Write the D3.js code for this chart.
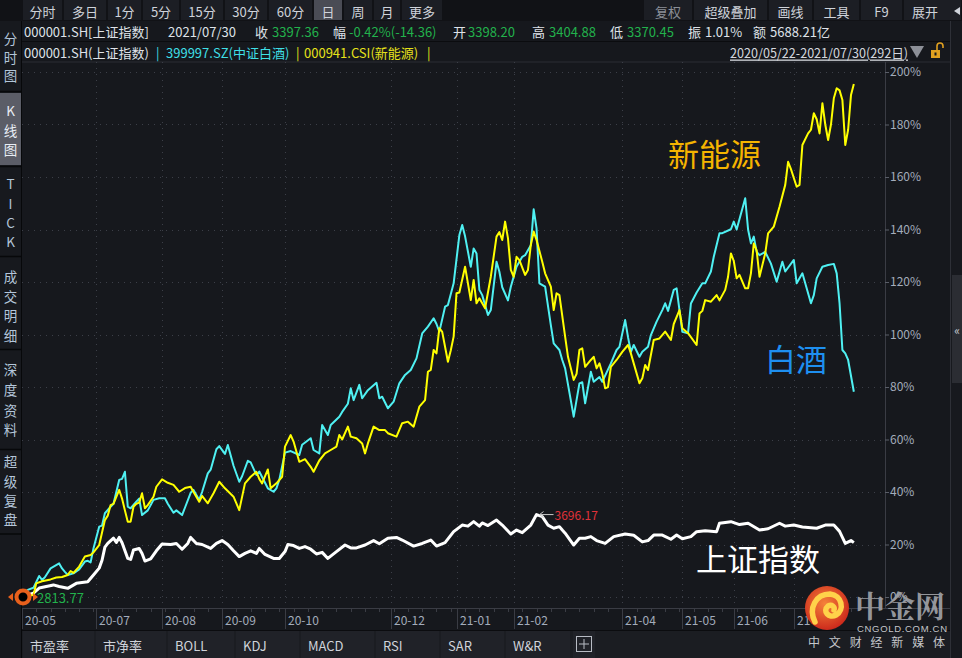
<!DOCTYPE html>
<html><head><meta charset="utf-8">
<script src="https://cdn.jsdelivr.net/npm/d3@7"></script>
<style>
html,body{margin:0;padding:0;background:#16181d;overflow:hidden;}
svg{display:block;}
</style></head>
<body>
<svg id="c" width="962" height="658"></svg>
<script>
// ---------------- DATA ----------------
// trading-day index (0 = 2020/05/22) and cumulative % change
const shIdx = [0,2,4,6,11,13,16,19,23,25,27,28,29,30,32,33,34,35,37,38,39,41,42,43,45,47,49,52,54,56,58,59,61,63,66,68,70,72,74,76,78,80,82,83,85,88,90,92,93,95,97,99,101,103,105,107,110,113,115,117,120,123,125,128,131,133,137,140,143,145,148,151,154,156,158,160,161,163,166,168,171,173,175,178,180,182,184,186,188,189,190,193,195,197,199,201,204,207,211,214,217,219,221,224,227,229,231,234,236,239,243,244,248,251,254,258,261,265,267,270,273,278,281,284,286,288,290,291];
const shVal = [0,0.8,1.5,3.4,4.6,4,3.3,5.2,5.8,8.4,11,14,19,20.4,22.4,20.8,22.7,20.7,14.7,14.3,17.9,18.5,16.6,13.7,14.5,17.6,20.2,20,20.4,18.2,20.4,22.7,20.4,20,18.5,20.4,21.5,20,17.6,15.4,16.6,17.6,16.6,18.5,16.2,14.7,14.7,17.3,20,19.6,18.5,19.2,18.2,16.4,17,14.7,17.3,19.8,18.7,18.7,19.8,21.5,20.3,22.4,22.7,21.7,19.4,20.4,21.7,19.4,20.7,24.9,27.4,27,28.7,27,28.2,27.2,29.3,27.4,24,25.5,24.5,27.4,31.4,30.6,27.4,26.2,26.8,25.5,24.3,19.8,22.4,22.4,23,21.5,20.4,23,24,23.5,21,21.5,23.6,23.6,22,23.6,22.2,23,24.9,25.2,24.9,28.1,28.7,27.6,28.1,25.5,26,28.1,27,27.4,26.7,26.2,27.4,27.4,25,20.4,21.5,20.7];

const bjIdx = [0,2,4,6,7,8,10,13,14,15,16,18,20,22,23,24,25,27,28,29,31,32,34,35,36,37,38,40,41,42,44,46,48,50,51,53,54,56,57,59,60,62,63,65,66,68,69,71,72,74,76,77,79,80,82,83,86,88,89,90,92,94,97,98,101,102,104,105,107,108,111,112,114,115,116,118,119,121,124,125,126,128,130,132,134,136,138,140,142,144,145,146,148,149,151,153,154,155,157,158,159,160,161,163,164,166,167,168,170,171,173,175,176,178,179,180,181,183,185,186,188,189,190,193,195,196,197,199,200,202,203,206,208,209,211,212,213,214,216,217,219,220,222,224,225,226,228,229,230,231,233,234,236,238,239,241,242,244,245,248,249,250,253,254,255,256,257,258,260,262,264,266,267,270,271,273,276,277,278,280,282,284,285,286,287,288,289,291];
const bjVal = [0,2.7,3.5,8,6.5,7.5,10.9,12.8,10.9,9.6,8.4,9,10.5,13.5,13.8,13.2,18.5,26.8,27.2,31.9,34.4,35.5,44.6,45,47.7,34.4,33.8,36.3,37.5,31.2,33,37,37.6,37.6,35.5,32.1,33,31.2,34,39.7,40.8,37,40,47.1,48.5,56.3,57.5,54.5,57.9,50,43.9,46,51.9,51.3,46.5,47.8,41.4,40.1,41.4,44.6,55,55.6,54.1,58,60.5,56,54.7,65.5,61.7,65.5,68.7,70.5,73.6,79.5,75,80.8,75.7,78.8,81.6,75.7,76.3,71.9,74.4,81.4,84.6,86.5,90.9,100.4,103,106.2,104,101.1,110.6,111.2,119.5,137.9,141.7,137.4,125.8,132.8,130.9,117,115,107.4,109.3,127.7,123.9,118,113,118.2,125.8,129.6,130.2,134,147.7,140.4,119.5,118.2,103.6,96.6,94.1,90.3,87.1,68.7,81.4,81.8,73.8,85.8,82,83.8,82,89,94.1,95.3,105.5,99,93.4,96,91.5,93.4,95.3,99.8,104.9,109.3,111.9,109,117,117.6,109.3,101,100.5,111.8,116,119.5,119.5,124,129.6,138.6,138.6,140.1,143,140,151.9,140,134.7,137.3,131.5,130.2,131.5,127,120.1,127.7,124,128.4,119.5,123.3,111.9,115,121.4,125.8,126.5,126.9,123.3,111.9,94.1,92.8,90.3,78.2];

const xnyIdx = [0,2,4,5,7,10,12,14,16,17,18,20,22,24,25,27,29,30,31,32,34,35,36,37,38,39,40,41,42,43,44,46,47,49,51,53,55,57,59,60,62,63,65,67,69,71,74,76,78,80,82,83,84,86,87,89,91,92,94,95,97,99,101,102,104,106,108,110,111,112,114,115,117,119,120,121,123,125,127,128,131,133,135,137,139,141,142,143,144,145,146,147,149,150,151,152,153,155,156,157,158,159,160,162,164,166,167,168,169,170,171,172,173,174,176,177,178,179,180,182,183,185,186,187,188,190,191,193,194,195,196,197,199,200,201,202,203,204,205,206,208,210,212,213,214,216,217,218,219,221,223,225,227,228,230,231,233,236,237,238,239,241,243,244,246,247,248,249,250,251,253,254,255,256,257,258,260,261,263,265,267,268,269,271,272,273,275,276,277,278,279,280,281,282,283,284,285,286,287,288,289,290,291];
const xnyVal = [0,0.5,0.8,5.2,6,6.7,7.4,7.6,8.4,9.9,9.2,11.6,15.4,16,17,19.8,29.3,31,35,35.5,40.8,37.5,33,28.7,28.7,34.4,35.5,36,39.5,33.8,35,38.2,42,44.8,43.5,42.7,40.1,41.5,42,40,36.3,38.5,35.7,39.5,43.9,41.4,38.2,33.1,43.3,45.8,47.7,45,43.3,48.6,41.4,43.3,45.8,57.3,61.7,59.2,51.5,52.5,49.6,47.7,52,54.7,56,57.3,61.7,60,64.9,61.1,60.5,58.5,54.7,58.5,64.9,63.6,63.6,62.4,61.1,66.2,66.8,64.9,72.5,75,85.8,86.5,94.1,92.8,102.4,101,89.6,94,99.2,115.7,116,125.8,119.5,113.1,120.8,111.9,113.8,110,122,137.3,139,136,143,136.7,124.6,122,129.6,128.3,122.7,124.6,134.1,139.2,136,127.7,123.3,118.2,109.3,115.7,115,99.2,91.5,82.7,85,94.1,94.7,87.7,90.3,91.5,87.1,89,85.2,79.5,80,87.7,90.3,93.4,96,92.8,89,81.4,83.3,88.4,86.5,97.9,98.5,101.1,97.9,104,109.3,102.4,100.5,96,108,109,113.1,112.5,115,113,117,122,130.9,128,121.4,122.7,117.6,117.6,123.3,134.7,132,122,130.9,138.5,141.1,148.7,157,165.8,163,156.3,157,172.2,176.6,178,184.3,182,176.6,188.1,180,174.1,180,190,193.8,193,189.3,172.2,178,191.2,195.4];

const monthTickIdx = [0,26,49,70,92,129,152,172,210,231,249,270];
const monthTickLabels = ["20-05","20-07","20-08","20-09","20-10","20-12","21-01","21-02","21-04","21-05","21-06","21-07"];
const yTickVals = [0,20,40,60,80,100,120,140,160,180,200];
const peakIdx = 180, peakVal = 31.4, peakLabel = "3696.17", baseLabel = "2813.77";
const totalDays = 292;

const topBtnsLeft = ["分时","多日","1分","5分","15分","30分","60分","日","周","月","更多"];
const topBtnsRight = ["复权","超级叠加","画线","工具","F9","展开"];
const sideBlocks = [["分","时","图"],["K","线","图"],["T","I","C","K"],["成","交","明","细"],["深","度","资","料"],["超","级","复","盘"]];
const bottomTabs = ["市盈率","市净率","BOLL","KDJ","MACD","RSI","SAR","W&R"];

// ---------------- DRAW ----------------
const FONT = '"Noto Sans CJK SC","Noto Sans",sans-serif';
const svg = d3.select("#c").style("font-family", FONT);
const BG = "#16181d", BAR = "#1c1e24", SEP = "#0b0c0f";

svg.append("rect").attr("width",962).attr("height",658).attr("fill",BG);

const L = 22, R = 885, T = 62, B = 608;
const x = d3.scaleLinear().domain([0, 301.9]).range([L, R]);
const y = d3.scaleLinear().domain([0, 200]).range([597, 72]);

// ---- top toolbar ----
svg.append("rect").attr("x",0).attr("y",0).attr("width",962).attr("height",21).attr("fill","#111216");
const leftEdges = [22,63,107,142,180,224,268,313,343,373,401,443];
topBtnsLeft.forEach((t,i)=>{
  const x0 = leftEdges[i], x1 = leftEdges[i+1];
  svg.append("rect").attr("x",x0+1).attr("y",0).attr("width",x1-x0-2).attr("height",20)
    .attr("fill", t==="日" ? "#4a4c55" : BAR);
  svg.append("text").attr("x",(x0+x1)/2).attr("y",11).attr("text-anchor","middle")
    .attr("dominant-baseline","central").attr("font-size",13).attr("fill","#cfd3da").text(t);
});
const rightEdges = [643,693,768,813,860,903,962];
topBtnsRight.forEach((t,i)=>{
  const x0 = rightEdges[i], x1 = rightEdges[i+1];
  svg.append("rect").attr("x",x0+1).attr("y",0).attr("width",x1-x0-2).attr("height",20).attr("fill",BAR);
  svg.append("text").attr("x", t==="展开" ? 912 : (x0+x1)/2).attr("y",11)
    .attr("text-anchor", t==="展开" ? "start" : "middle")
    .attr("dominant-baseline","central").attr("font-size",13)
    .attr("fill", t==="复权" ? "#8b8f97" : "#cfd3da").text(t);
});
svg.append("path").attr("d","M960,7 L954,11 L960,15 Z").attr("fill","#cfd3da");

// ---- header rows ----
const hdr = svg.append("g").attr("font-size",13);
const WH = "#dfe2e8", GR = "#22b24c";
[
  [24,"000001.SH[上证指数]",WH],[168,"2021/07/30",WH],[255,"收",WH],[272,"3397.36",GR],
  [333,"幅",WH],[349,"-0.42%(-14.36)",GR],[453,"开",WH],[468,"3398.20",GR],
  [532,"高",WH],[549,"3404.88",GR],[610,"低",WH],[627,"3370.45",GR],
  [688,"振",WH],[705,"1.01%",WH],[753,"额",WH],[770,"5688.21亿",WH]
].forEach(d=>hdr.append("text").attr("x",d[0]).attr("y",31).attr("dominant-baseline","central").attr("fill",d[2]).text(d[1]));
svg.append("line").attr("x1",22).attr("x2",950).attr("y1",41.5).attr("y2",41.5).attr("stroke",SEP);
const CY = "#3fdfe6", YE = "#e6e21a";
[
  [24,"000001.SH(上证指数)",WH],[156,"|",CY],[166,"399997.SZ(中证白酒)",CY],
  [296,"|",YE],[304,"000941.CSI(新能源)",YE],[427,"|",YE]
].forEach(d=>hdr.append("text").attr("x",d[0]).attr("y",52).attr("dominant-baseline","central").attr("fill",d[2]).text(d[1]));
hdr.append("text").attr("x",730).attr("y",52).attr("dominant-baseline","central").attr("fill","#d4d7dd")
  .attr("text-decoration","underline").attr("textLength",178).attr("lengthAdjust","spacingAndGlyphs")
  .text("2020/05/22-2021/07/30(" + totalDays + "日)");
svg.append("path").attr("d","M910,46 L924,46 L917,58 Z").attr("fill","#8d9098");
// lock icon
svg.append("rect").attr("x",931).attr("y",50).attr("width",9).attr("height",8).attr("fill","#e0a020");
svg.append("rect").attr("x",934.5).attr("y",52.5).attr("width",2).attr("height",3).attr("fill","#16181d");
svg.append("path").attr("d","M937,50 L937,46 A3,3 0 0 1 943,46 L943,48").attr("fill","none").attr("stroke","#e0a020").attr("stroke-width",1.6);

// ---- left sidebar ----
svg.append("rect").attr("x",0).attr("y",21).attr("width",21).attr("height",637).attr("fill","#17191e");
svg.append("line").attr("x1",21.5).attr("x2",21.5).attr("y1",21).attr("y2",658).attr("stroke","#07080a");
const sideRanges = [[22,90],[93,165],[168,256],[258,349],[351,449],[451,533]];
const sideYs = [[38,57,75],[110,130,149],[183,203,222,241],[276,296,315,335],[369,389,410,429],[461,481,500,519]];
sideBlocks.forEach((chars,i)=>{
  const [a,b] = sideRanges[i];
  if (i===1) svg.append("rect").attr("x",0).attr("y",a).attr("width",21).attr("height",b-a).attr("fill","#5b5d67");
  if (i>0) svg.append("line").attr("x1",0).attr("x2",21).attr("y1",a-1.5).attr("y2",a-1.5).attr("stroke","#07080a").attr("stroke-width",1.5);
  chars.forEach((c,j)=>svg.append("text").attr("x",10.5).attr("y",sideYs[i][j]).attr("text-anchor","middle")
    .attr("dominant-baseline","central").attr("font-size",13.5).attr("fill", i===1 ? "#e8edf5" : "#b4c6da").text(c));
});
svg.append("line").attr("x1",0).attr("x2",21).attr("y1",534).attr("y2",534).attr("stroke","#07080a").attr("stroke-width",1.5);

// ---- chart frame ----
svg.append("line").attr("x1",L).attr("x2",950).attr("y1",T).attr("y2",T).attr("stroke","#2b2d34");
svg.append("line").attr("x1",R+0.5).attr("x2",R+0.5).attr("y1",T).attr("y2",B).attr("stroke","#3a3c44");
svg.append("line").attr("x1",950.5).attr("x2",950.5).attr("y1",21).attr("y2",658).attr("stroke","#2e3037");
svg.append("rect").attr("x",951).attr("y",21).attr("width",11).attr("height",637).attr("fill","#17191e");
svg.append("rect").attr("x",952).attr("y",275).attr("width",10).attr("height",108).attr("fill","#2b2d33");
svg.append("text").attr("x",957).attr("y",329).attr("text-anchor","middle").attr("dominant-baseline","central")
  .attr("font-size",12).attr("fill","#c8ccd4").text("«");

// grid
const grid = svg.append("g").attr("stroke","#3c3f48").attr("stroke-dasharray","1,5");
yTickVals.forEach(v=>grid.append("line").attr("x1",L).attr("x2",R).attr("y1",Math.round(y(v))+0.5).attr("y2",Math.round(y(v))+0.5));
monthTickIdx.forEach(i=>{ if(i>0) grid.append("line").attr("x1",Math.round(x(i))+0.5).attr("x2",Math.round(x(i))+0.5).attr("y1",T).attr("y2",B); });

// right axis
const yAxis = svg.append("g").attr("transform",`translate(${R},0)`)
  .call(d3.axisRight(y).tickValues(yTickVals).tickSize(4).tickPadding(1).tickFormat(d=>d+"%"));
yAxis.select(".domain").remove();
yAxis.selectAll("line").attr("stroke","#5a5e68");
yAxis.selectAll("text").attr("font-size",12).attr("fill","#a3acbb").attr("font-family",FONT);

// bottom axis
svg.append("line").attr("x1",L).attr("x2",950).attr("y1",B+0.5).attr("y2",B+0.5).attr("stroke","#3a3c44");
const minor = svg.append("g").attr("stroke","#3a3c44");
d3.range(0,totalDays,5).forEach(i=>minor.append("line").attr("x1",Math.round(x(i))+0.5).attr("x2",Math.round(x(i))+0.5).attr("y1",B).attr("y2",B+4));
monthTickIdx.forEach((i,k)=>{
  const xp = Math.round(x(i))+0.5;
  svg.append("line").attr("x1",xp).attr("x2",xp).attr("y1",B).attr("y2",629).attr("stroke","#3a3c44");
  svg.append("text").attr("x",xp+2.5).attr("y",619).attr("dominant-baseline","central")
    .attr("font-size",12).attr("fill","#a3acbb").text(monthTickLabels[k]);
});

// ---- series ----
svg.append("clipPath").attr("id","clip").append("rect").attr("x",L).attr("y",T).attr("width",R-L).attr("height",B-T);
const plot = svg.append("g").attr("clip-path","url(#clip)");
const line = d3.line().x(d=>x(d[0])).y(d=>y(d[1])).curve(d3.curveLinear);
const zip = (a,b)=>a.map((v,i)=>[v,b[i]]);
plot.append("path").datum(zip(shIdx,shVal)).attr("d",line).attr("fill","none").attr("stroke","#ffffff").attr("stroke-width",3).attr("stroke-linejoin","round");
plot.append("path").datum(zip(bjIdx,bjVal)).attr("d",line).attr("fill","none").attr("stroke","#4ff0f2").attr("stroke-width",2).attr("stroke-linejoin","round");
plot.append("path").datum(zip(xnyIdx,xnyVal)).attr("d",line).attr("fill","none").attr("stroke","#ffff00").attr("stroke-width",2).attr("stroke-linejoin","round");

// peak label
const px = x(peakIdx), py = y(peakVal);
svg.append("line").attr("x1",px+3).attr("x2",px+17).attr("y1",py).attr("y2",py).attr("stroke","#c8c8c8").attr("stroke-width",1);
svg.append("path").attr("d",`M${px+3},${py} l4,-3 M${px+3},${py} l4,3`).attr("stroke","#c8c8c8").attr("fill","none");
svg.append("text").attr("x",px+18).attr("y",py).attr("dominant-baseline","central").attr("font-size",12).attr("fill","#e0323a").text(peakLabel);

// base marker
svg.append("text").attr("x",37).attr("y",y(0)).attr("dominant-baseline","central").attr("font-size",13).attr("fill","#22b24c").text(baseLabel);
svg.append("path").attr("d",`M8,${y(0)} L13,${y(0)-4} L13,${y(0)+4} Z`).attr("fill","#e8601c");
svg.append("path").attr("d",`M38,${y(0)} L33,${y(0)-4} L33,${y(0)+4} Z`).attr("fill","#e8601c");
svg.append("circle").attr("cx",23).attr("cy",y(0)).attr("r",6.5).attr("fill","#000").attr("stroke","#e8601c").attr("stroke-width",4);

// annotations
svg.append("text").attr("x",668).attr("y",152).attr("dominant-baseline","central").attr("font-size",31).attr("fill","#f5b400").text("新能源");
svg.append("text").attr("x",765).attr("y",357).attr("dominant-baseline","central").attr("font-size",31).attr("fill","#1e8ff0").text("白酒");
svg.append("text").attr("x",696).attr("y",557).attr("dominant-baseline","central").attr("font-size",31).attr("fill","#ffffff").text("上证指数");

// ---- bottom tab bar ----
svg.append("rect").attr("x",22).attr("y",630).attr("width",928).attr("height",28).attr("fill","#1b1d22");
svg.append("line").attr("x1",22).attr("x2",950).attr("y1",630.5).attr("y2",630.5).attr("stroke",SEP);
const tabEdges = [22,95,167,235,300,375,440,505,571];
bottomTabs.forEach((t,i)=>{
  const x0 = tabEdges[i], x1 = tabEdges[i+1];
  svg.append("rect").attr("x",x0+1).attr("y",631).attr("width",x1-x0-2).attr("height",27).attr("fill","#202228");
  svg.append("text").attr("x",x0+8).attr("y",645).attr("dominant-baseline","central").attr("font-size",13).attr("fill","#cfd3da").text(t);
});
svg.append("rect").attr("x",573).attr("y",631).attr("width",22).attr("height",27).attr("fill","#202228");
svg.append("rect").attr("x",576.5).attr("y",636.5).attr("width",15).attr("height",15).attr("fill","none").attr("stroke","#b8bcc4");
svg.append("path").attr("d","M584,639 L584,649 M579,644 L589,644").attr("stroke","#b8bcc4");

// ---- watermark ----
const defs = svg.append("defs");
const rg = defs.append("radialGradient").attr("id","lg").attr("cx","45%").attr("cy","40%").attr("r","60%");
rg.append("stop").attr("offset","0%").attr("stop-color","#f5823a");
rg.append("stop").attr("offset","100%").attr("stop-color","#cc2a1c");
svg.append("circle").attr("cx",827).attr("cy",608).attr("r",22).attr("fill","url(#lg)");
svg.append("path").attr("d","M815,622 C808,608 816,594 830,594 C842,595 845,610 836,615 C829,619 822,611 828,606 C832,604 835,607 834,610")
  .attr("fill","none").attr("stroke","#ffd24a").attr("stroke-width",5.5).attr("stroke-linecap","round");
svg.append("text").attr("x",855).attr("y",604).attr("dominant-baseline","central").attr("font-size",30).attr("font-weight","bold")
  .attr("fill","#9d9fa4").attr("fill-opacity",0.95).attr("font-family",'"Noto Serif CJK SC","Noto Sans CJK SC",serif').text("中金网");
svg.append("text").attr("x",857).attr("y",628).attr("dominant-baseline","central").attr("font-size",9.5)
  .attr("fill","#c4c6ca").attr("textLength",90).attr("font-family","Arial,Liberation Sans,sans-serif").text("CNGOLD.COM.CN");
svg.append("text").attr("x",808).attr("y",641).attr("dominant-baseline","central").attr("font-size",12)
  .attr("fill","#c4c6ca").attr("textLength",137).attr("lengthAdjust","spacing").text("中文财经新媒体");
</script>
</body></html>
